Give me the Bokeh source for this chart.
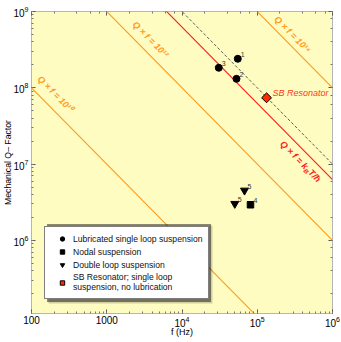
import math
from bokeh.plotting import figure
from bokeh.models import (Range1d, LogAxis, LogTicker, LogTickFormatter, LabelSet,
                          ColumnDataSource, Legend, LegendItem, BoxAnnotation)
from bokeh.core.properties import value
from bokeh.embed import file_html
from bokeh.resources import INLINE

# ---------------- data ----------------
F_MIN, F_MAX = 100, 1e6
Q_MIN, Q_MAX = 1.1e5, 1e9

lub_f = [5.51e4, 5.30e4, 3.08e4]
lub_q = [2.40e8, 1.31e8, 1.83e8]
lub_lbl = ["1", "2", "3"]

nodal_f = [8.13e4]
nodal_q = [2.93e6]
nodal_lbl = ["4"]

dbl_f = [6.77e4, 5.03e4]
dbl_q = [4.51e6, 3.02e6]
dbl_lbl = ["5", "5"]

sb_f = [1.33e5]
sb_q = [7.39e7]

qf_orange = [1e10, 1e12, 1e14]
qf_orange_lbl = ["Q × f = 10¹⁰", "Q × f = 10¹²", "Q × f = 10¹⁴"]
qf_orange_lbl_f = [208, 3.81e3, 2.94e5]
qf_orange_lbl_q = [8.3e7, 4.3e8, 5.0e8]

qf_thermal = 6.25e12          # kB T / h at room temperature
qf_thermal_lbl_f = 3.76e5
qf_thermal_lbl_q = 1.08e7
qf_sb = 1e13                  # dashed line through the SB resonator

x_tick_plain = {100: "100", 1000: "1000"}

legend_labels = ["Lubricated single loop suspension", "Nodal suspension",
                 "Double loop suspension",
                 "SB Resonator; single loop\nsuspension, no lubrication"]

FONT = "Liberation Sans"
ORANGE = "#ff9a1a"
RED = "#ff1a1a"
SB_FILL = "#ff2a00"

# ---------------- figure ----------------
W, H = 341, 342
ML, MR, MT, MB = 31, 9, 11, 29
p = figure(width=W, height=H, x_axis_type="log", y_axis_type="log",
           x_range=Range1d(F_MIN, F_MAX), y_range=Range1d(Q_MIN, Q_MAX),
           output_backend="svg", toolbar_location=None,
           min_border_left=ML, min_border_right=MR, min_border_top=MT, min_border_bottom=MB,
           background_fill_color="#fffcc2", border_fill_color="white")
p.grid.visible = False
p.outline_line_color = "#b5b5b5"
p.outline_line_width = 1

xa = p.below[0]
ya = p.left[0]
top_ax = LogAxis(ticker=LogTicker())
right_ax = LogAxis(ticker=LogTicker())
p.add_layout(top_ax, "above")
p.add_layout(right_ax, "right")

for ax in [xa, ya, top_ax, right_ax]:
    ax.axis_line_color = None
    ax.major_tick_in = 4
    ax.major_tick_out = 0
    ax.minor_tick_in = 2
    ax.minor_tick_out = 0
    ax.major_tick_line_color = "#555555"
    ax.minor_tick_line_color = "#777777"
    ax.major_label_text_font = FONT
    ax.major_label_text_font_size = "10px"
    ax.major_label_text_color = "black"
    ax.axis_label_text_font = FONT
    ax.axis_label_text_font_style = "normal"
    ax.axis_label_text_color = "black"
for ax in [top_ax, right_ax]:
    ax.major_label_text_font_size = "1px"
    ax.major_label_text_alpha = 0
    ax.major_label_standoff = 0

xa.formatter = LogTickFormatter(min_exponent=3)
xa.major_label_overrides = x_tick_plain
xa.major_label_standoff = 2
xa.axis_label = "f (Hz)"
xa.axis_label_text_font_size = "9px"
xa.axis_label_standoff = -3
ya.major_label_standoff = 3
ya.axis_label = "Mechanical Q– Factor"
ya.axis_label_text_font_size = "8.7px"
ya.axis_label_standoff = -3

# ---------------- lines ----------------
fx = [F_MIN, F_MAX]
for c in qf_orange:
    p.line(fx, [c / f for f in fx], line_color=ORANGE, line_width=1.1)
p.line(fx, [qf_thermal / f for f in fx], line_color=RED, line_width=1.1)
p.line(fx, [qf_sb / f for f in fx], line_color="#333333", line_width=0.8, line_dash="3 2")

# rotated line labels
PX_X = (W - ML - MR) / math.log10(F_MAX / F_MIN)
PX_Y = (H - MT - MB) / math.log10(Q_MAX / Q_MIN)
theta = -math.atan(PX_Y / PX_X)

lbl_src = ColumnDataSource(dict(f=qf_orange_lbl_f, q=qf_orange_lbl_q, t=qf_orange_lbl))
p.text(x="f", y="q", text="t", source=lbl_src, angle=theta, text_align="center",
       text_baseline="middle", text_color=ORANGE, text_font=value(FONT),
       text_font_style="bold italic", text_font_size="9px")


def along(f, q, s, d=0.0):
    dx = s * math.cos(theta) + d * math.sin(theta)
    dy = s * math.sin(theta) - d * math.cos(theta)
    return f * 10 ** (dx / PX_X), q * 10 ** (dy / PX_Y)


pieces = [("Q × f = k", 9, 35.5, 0.0), ("B", 6.3, 4.6, 2.5), ("T/ħ", 9, 13.5, 0.0)]
total = sum(pc[2] for pc in pieces)
s = -total / 2
pf, pq, pt, ps = [], [], [], []
for txt, size, wdt, d in pieces:
    ff, qq = along(qf_thermal_lbl_f, qf_thermal_lbl_q, s, d)
    pf.append(ff); pq.append(qq); pt.append(txt); ps.append(f"{size}px")
    s += wdt
kt_src = ColumnDataSource(dict(f=pf, q=pq, t=pt, sz=ps))
p.text(x="f", y="q", text="t", source=kt_src, angle=theta, text_align="left",
       text_baseline="middle", text_color=RED, text_font=value(FONT),
       text_font_style="bold italic", text_font_size="sz")

# ---------------- points ----------------
r_lub = p.scatter(lub_f, lub_q, marker="circle", size=7, color="black")
r_nod = p.scatter(nodal_f, nodal_q, marker="square", size=6.5, color="black")
r_dbl = p.scatter(dbl_f, dbl_q, marker="inverted_triangle", size=8, color="black")
r_sb = p.scatter(sb_f, sb_q, marker="square", angle=math.pi / 4, size=7,
                 fill_color=SB_FILL, line_color="black", line_width=1)

num_src = ColumnDataSource(dict(f=lub_f + nodal_f + dbl_f, q=lub_q + nodal_q + dbl_q,
                                t=lub_lbl + nodal_lbl + dbl_lbl))
p.add_layout(LabelSet(x="f", y="q", text="t", source=num_src, x_offset=3, y_offset=4,
                      text_font=value(FONT), text_font_size="7px", text_color="#333333",
                      text_baseline="middle"))
sb_src = ColumnDataSource(dict(f=sb_f, q=sb_q, t=["SB Resonator"]))
p.add_layout(LabelSet(x="f", y="q", text="t", source=sb_src, x_offset=6, y_offset=5,
                      text_font=value(FONT), text_font_size="9px", text_color="#ff3a1a",
                      text_font_style="italic", text_baseline="middle"))

# ---------------- legend ----------------
LX, LY, LW, LH = 13, 14, 164, 78
for off, alpha in [(4, 0.18), (2.5, 0.45)]:
    p.add_layout(BoxAnnotation(left=LX + off, right=LX + LW + off, bottom=LY - off,
                               top=LY + LH - off, left_units="screen", right_units="screen",
                               bottom_units="screen", top_units="screen",
                               fill_color="black", fill_alpha=alpha, line_color=None))

legend = Legend(items=[LegendItem(label=legend_labels[0], renderers=[r_lub]),
                       LegendItem(label=legend_labels[1], renderers=[r_nod]),
                       LegendItem(label=legend_labels[2], renderers=[r_dbl]),
                       LegendItem(label=legend_labels[3], renderers=[r_sb])],
                location=(LX, LY), label_text_font=FONT, label_text_font_size="8.6px",
                label_text_color="#111111", glyph_width=22, glyph_height=11,
                label_height=11, label_standoff=0, spacing=2, padding=6, margin=0,
                border_line_color="black", border_line_width=1,
                background_fill_color="white", background_fill_alpha=1.0)
p.add_layout(legend, "center")

open("out.html", "w").write(file_html(p, INLINE))
